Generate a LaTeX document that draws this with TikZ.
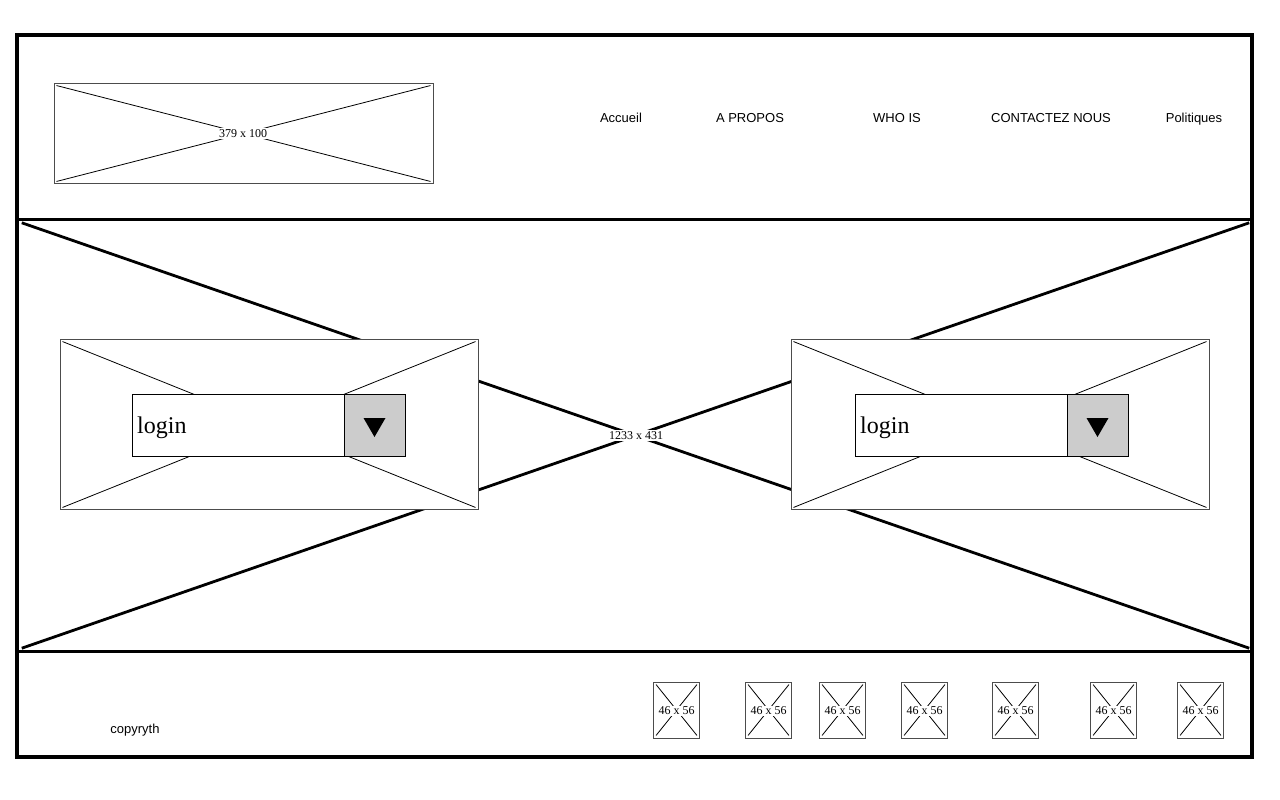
\documentclass[tikz,border=0pt]{standalone}
\usepackage{fontspec}
\setmainfont{Liberation Serif}
\setsansfont{Liberation Sans}
\begin{document}
\begin{tikzpicture}[x=1pt,y=-1pt,
  thick frame/.style={line width=4pt},
  section line/.style={line width=3pt},
  heroline/.style={line width=2.8pt},
  imgbox/.style={draw=black!70,line width=0.9pt,fill=white,inner sep=0pt},
  imglabel/.style={fill=white,inner sep=1pt,font=\fontsize{12}{14}\selectfont},
  diag/.style={line width=0.8pt},
  navtext/.style={font=\sffamily\fontsize{13}{15}\selectfont,text height=9.5pt,text depth=2.5pt},
  combo/.style={draw=black,line width=0.8pt,fill=white,minimum height=62pt,minimum width=212pt,inner sep=0pt,outer sep=0pt},
  btn/.style={draw=black,line width=0.8pt,fill=gray!40,minimum width=61pt,minimum height=62pt,inner sep=0pt,outer sep=0pt}]
\useasboundingbox[fill=white] (0,0) rectangle (1280,800);
% outer frame and sections
\draw[thick frame] (17,35) rectangle (1252,757);
\coordinate (hl) at (17,219); \coordinate (hr) at (1252,219);
\coordinate (fl) at (17,651); \coordinate (fr) at (1252,651);
\draw[section line] (hl) -- (hr);
\draw[section line] (fl) -- (fr);
% hero image
\node[minimum width=1230pt,minimum height=430pt,inner sep=0pt] (hero) at (635,435) {};
\draw[heroline] ([shift={(2,3)}]hero.north west) -- ([shift={(-1,-2)}]hero.south east);
\draw[heroline] ([shift={(-1,3)}]hero.north east) -- ([shift={(2,-2)}]hero.south west);
\node[imglabel] (herolabel) at (636,435.5) {1233 x 431};
% logo
\node[imgbox,minimum width=379pt,minimum height=100pt] (logo) at (243.5,133) {};
\draw[diag] ([shift={(3,3)}]logo.north west) -- ([shift={(-3,-2)}]logo.south east);
\draw[diag] ([shift={(-3,3)}]logo.north east) -- ([shift={(3,-2)}]logo.south west);
\node[imglabel] (logolabel) at (243,133.5) {379 x 100};
% navigation
\node[navtext] (nav1) at (621,119.3) {Accueil};
\node[navtext] (nav2) at (750,119.3) {A PROPOS};
\node[navtext] (nav3) at (897,119.3) {WHO IS};
\node[navtext] (nav4) at (1051,119.3) {CONTACTEZ NOUS};
\node[navtext] (nav5) at (1194,119.3) {Politiques};
% login boxes
\foreach \cx/\comx/\nm in {269/132/L,1000/855/R}{
  \node[imgbox,minimum width=418pt,minimum height=170pt] (box\nm) at (\cx,424) {};
  \draw[diag] ([shift={(3,3)}]box\nm.north west) -- ([shift={(-3,-2)}]box\nm.south east);
  \draw[diag] ([shift={(-3,3)}]box\nm.north east) -- ([shift={(3,-2)}]box\nm.south west);
  \node[combo,anchor=west] (combo\nm) at (\comx,425) {};
  \node[anchor=west,inner sep=0pt,font=\fontsize{24}{28}\selectfont] (txt\nm) at (\comx+5,427.5) {login};
  \node[btn,anchor=west] (btn\nm) at (combo\nm.east) {};
  \fill ([shift={(-11,-7)}]btn\nm.center) -- ([shift={(11,-7)}]btn\nm.center) -- ([shift={(0,12)}]btn\nm.center) -- cycle;
}
% footer
\node[font=\sffamily\fontsize{13}{15}\selectfont] (copy) at (135,730.5) {copyryth};
\foreach \cx [count=\i] in {676.5,768.5,842.5,924.5,1015.5,1113.5,1200.5}{
  \node[imgbox,minimum width=46pt,minimum height=56pt] (ic\i) at (\cx,710) {};
  \draw[diag] ([shift={(3,3)}]ic\i.north west) -- ([shift={(-3,-3)}]ic\i.south east);
  \draw[diag] ([shift={(-3,3)}]ic\i.north east) -- ([shift={(3,-3)}]ic\i.south west);
  \node[imglabel] (icl\i) at (\cx,711) {46 x 56};
}
\end{tikzpicture}
\end{document}
